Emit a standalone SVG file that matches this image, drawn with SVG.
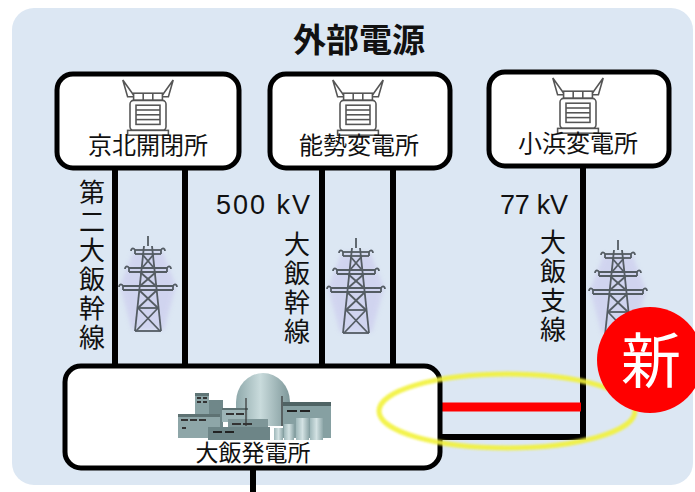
<svg xmlns="http://www.w3.org/2000/svg" width="695" height="492" viewBox="0 0 695 492">
  <style>
    .jp { font-family: "Noto Sans CJK JP", "Noto Sans", sans-serif; fill: #111; }
    .lat { font-family: "Liberation Sans", Arial, sans-serif; fill: #111; }
    .box { fill: #ffffff; stroke: #000; stroke-width: 5; }
    .line { fill: none; stroke: #000; stroke-width: 6; stroke-linecap: butt; }
    .lbl { font-size: 24px; text-anchor: middle; }
    .vert { font-size: 26px; writing-mode: vertical-rl; letter-spacing: 3px; }
    .tw { fill: none; stroke: #545c63; stroke-width: 1.8; }
  </style>
  <defs>
    <filter id="soft" x="-30%" y="-30%" width="160%" height="160%">
      <feGaussianBlur stdDeviation="2"/>
    </filter>
    <filter id="glow" x="-10%" y="-30%" width="120%" height="160%">
      <feGaussianBlur stdDeviation="1.3"/>
    </filter>
    <linearGradient id="dome" x1="0" y1="0" x2="1" y2="0">
      <stop offset="0" stop-color="#8fa9ab"/>
      <stop offset="0.45" stop-color="#c9dbdc"/>
      <stop offset="1" stop-color="#7d9799"/>
    </linearGradient>
    <linearGradient id="tank" x1="0" y1="0" x2="1" y2="0">
      <stop offset="0" stop-color="#9fb8ba"/>
      <stop offset="0.5" stop-color="#d3e2e3"/>
      <stop offset="1" stop-color="#8ea7a9"/>
    </linearGradient>
    <!-- lattice transmission tower, origin at tip -->
    <g id="tower">
      <path d="M-14 14 L14 14 L28 50 L16 94 L-16 94 L-28 50 Z" fill="#c6c2ec" opacity="0.5" filter="url(#soft)"/>
      <g class="tw">
        <line x1="0" y1="0" x2="0" y2="10"/>
        <line x1="-4" y1="10" x2="-13" y2="95"/>
        <line x1="4" y1="10" x2="13" y2="95"/>
        <line x1="-13" y1="14" x2="13" y2="14"/>
        <line x1="-19" y1="32" x2="19" y2="32"/>
        <line x1="-25" y1="50" x2="25" y2="50"/>
        <line x1="-13" y1="18" x2="13" y2="18"/>
        <line x1="-19" y1="36" x2="19" y2="36"/>
        <line x1="-25" y1="54" x2="25" y2="54"/>
        <line x1="-10" y1="72" x2="10" y2="72"/>
        <line x1="-13" y1="95" x2="13" y2="95"/>
        <line x1="-6" y1="18" x2="6" y2="32"/>
        <line x1="6" y1="18" x2="-6" y2="32"/>
        <line x1="-8" y1="36" x2="8" y2="50"/>
        <line x1="8" y1="36" x2="-8" y2="50"/>
        <line x1="-9" y1="54" x2="10" y2="72"/>
        <line x1="9" y1="54" x2="-10" y2="72"/>
        <line x1="-10" y1="72" x2="12" y2="95"/>
        <line x1="10" y1="72" x2="-12" y2="95"/>
        <path d="M-13 14 v4 M13 14 v4 M-19 32 v4 M19 32 v4 M-25 50 v4 M25 50 v4"/>
        <path d="M-13 14 c-2 -3 -4 -1 -4 1 M13 14 c2 -3 4 -1 4 1 M-19 32 c-2 -3 -4 -1 -4 1 M19 32 c2 -3 4 -1 4 1 M-25 50 c-2 -3 -4 -1 -4 1 M25 50 c2 -3 4 -1 4 1"/>
      </g>
    </g>
    <!-- substation transformer, origin at top centre -->
    <g id="xfmr" fill="#fff" stroke="#555" stroke-width="1.3">
      <path d="M-11 14 L-21 0 L-17 14 Z"/>
      <path d="M11 14 L21 0 L17 14 Z"/>
      <rect x="-12" y="11" width="24" height="6"/>
      <line x1="-4" y1="11" x2="-4" y2="17"/>
      <line x1="4" y1="11" x2="4" y2="17"/>
      <rect x="-15" y="17" width="30" height="25" rx="3"/>
      <rect x="-10" y="21" width="20" height="16"/>
      <line x1="-10" y1="25" x2="10" y2="25"/>
      <line x1="-10" y1="29" x2="10" y2="29"/>
      <line x1="-10" y1="33" x2="10" y2="33"/>
      <rect x="-17" y="42" width="34" height="4"/>
    </g>
  </defs>

  <!-- background panel -->
  <rect x="12" y="8" width="681" height="477" rx="22" fill="#dce7f3"/>

  <text class="jp" x="359" y="52" font-size="33" font-weight="bold" text-anchor="middle">外部電源</text>

  <!-- connectors -->
  <g id="connectors">
    <line class="line" x1="115" y1="168" x2="115" y2="368"/>
    <line class="line" x1="185" y1="168" x2="185" y2="368"/>
    <line class="line" x1="322" y1="168" x2="322" y2="368"/>
    <line class="line" x1="393" y1="168" x2="393" y2="368"/>
    <polyline class="line" points="583,165 583,437 438,437"/>
    <line x1="438" y1="407" x2="581" y2="407" stroke="#ff0000" stroke-width="9"/>
    <line class="line" x1="253" y1="468" x2="253" y2="492"/>
  </g>

  <!-- line names and voltages -->
  <text class="jp vert" x="92" y="179">第二大飯幹線</text>
  <text class="jp vert" x="297" y="231">大飯幹線</text>
  <text class="jp vert" x="553" y="229">大飯支線</text>
  <text class="lat" x="216" y="214" font-size="27" textLength="94" lengthAdjust="spacing">500 kV</text>
  <text class="lat" x="500" y="214" font-size="27" textLength="68" lengthAdjust="spacing">77 kV</text>

  <use href="#tower" x="148" y="236"/>
  <use href="#tower" x="356" y="238"/>
  <use href="#tower" x="618" y="240"/>

  <!-- substations -->
  <g id="keihoku">
    <rect class="box" x="57" y="74" width="182" height="94" rx="16"/>
    <use href="#xfmr" transform="translate(148 80) scale(1.2)"/>
    <text class="jp lbl" x="148" y="154">京北開閉所</text>
  </g>
  <g id="nose">
    <rect class="box" x="270" y="74" width="180" height="94" rx="16"/>
    <use href="#xfmr" transform="translate(358 80) scale(1.2)"/>
    <text class="jp lbl" x="359" y="154">能勢変電所</text>
  </g>
  <g id="obama">
    <rect class="box" x="489" y="72" width="180" height="94" rx="16"/>
    <use href="#xfmr" transform="translate(578 78) scale(1.2)"/>
    <text class="jp lbl" x="578" y="152">小浜変電所</text>
  </g>

  <!-- power station -->
  <g id="ohi">
    <rect class="box" x="65" y="366" width="375" height="102" rx="16"/>
    <g id="plant">
      <path d="M236 426 V402 A27 29 0 0 1 290 402 V426 Z" fill="url(#dome)"/>
      <rect x="195" y="393" width="14" height="42" fill="#8aa3a5"/>
      <rect x="195" y="393" width="14" height="3" fill="#5f7576"/>
      <rect x="197" y="397" width="4" height="2" fill="#333"/><rect x="203" y="397" width="4" height="2" fill="#333"/>
      <rect x="197" y="401" width="4" height="2" fill="#333"/><rect x="203" y="401" width="4" height="2" fill="#333"/>
      <rect x="209" y="400" width="14" height="35" fill="#6f8789"/>
      <rect x="178" y="414" width="42" height="24" fill="#8ea6a8"/>
      <rect x="178" y="414" width="42" height="3" fill="#5e7273"/>
      <rect x="181" y="419" width="7" height="2" fill="#333"/><rect x="190" y="419" width="7" height="2" fill="#333"/><rect x="199" y="419" width="7" height="2" fill="#333"/>
      <rect x="182" y="427" width="4" height="2" fill="#333"/>
      <rect x="222" y="408" width="26" height="14" fill="#9db5b7"/>
      <rect x="222" y="408" width="26" height="2" fill="#5e7273"/>
      <rect x="226" y="413" width="8" height="2" fill="#333"/><rect x="236" y="413" width="8" height="2" fill="#333"/>
      <rect x="228" y="419" width="40" height="19" fill="#7e9698"/>
      <rect x="232" y="423" width="9" height="2" fill="#333"/><rect x="243" y="423" width="9" height="2" fill="#333"/>
      <rect x="208" y="427" width="62" height="13" fill="#6d8587"/>
      <rect x="213" y="431" width="9" height="2" fill="#222"/><rect x="225" y="431" width="9" height="2" fill="#222"/>
      <rect x="283" y="405" width="48" height="33" fill="#86a0a2"/>
      <rect x="283" y="402" width="48" height="4" fill="#4f6364"/>
      <rect x="287" y="410" width="10" height="2" fill="#222"/><rect x="300" y="410" width="10" height="2" fill="#222"/>
      <rect x="284" y="424" width="10" height="16" fill="url(#tank)"/>
      <rect x="296" y="418" width="13" height="22" fill="url(#tank)"/>
      <rect x="310" y="418" width="13" height="22" fill="url(#tank)"/>
      <rect x="274" y="428" width="9" height="12" fill="url(#tank)"/>
      <line x1="246" y1="398" x2="246" y2="426" stroke="#333" stroke-width="1.2"/>
      <line x1="282" y1="396" x2="282" y2="426" stroke="#333" stroke-width="1.2"/>
    </g>
    <text class="jp" x="253" y="461" font-size="23" text-anchor="middle">大飯発電所</text>
  </g>

  <!-- highlight ring and badge -->
  <ellipse cx="507" cy="411" rx="128" ry="37" fill="none" stroke="#f2f23a" stroke-width="5" opacity="0.9" filter="url(#glow)"/>
  <circle cx="650" cy="360" r="53" fill="#ff0000"/>
  <text class="jp" x="651" y="383" font-size="60" style="fill:#fff" text-anchor="middle">新</text>
</svg>
